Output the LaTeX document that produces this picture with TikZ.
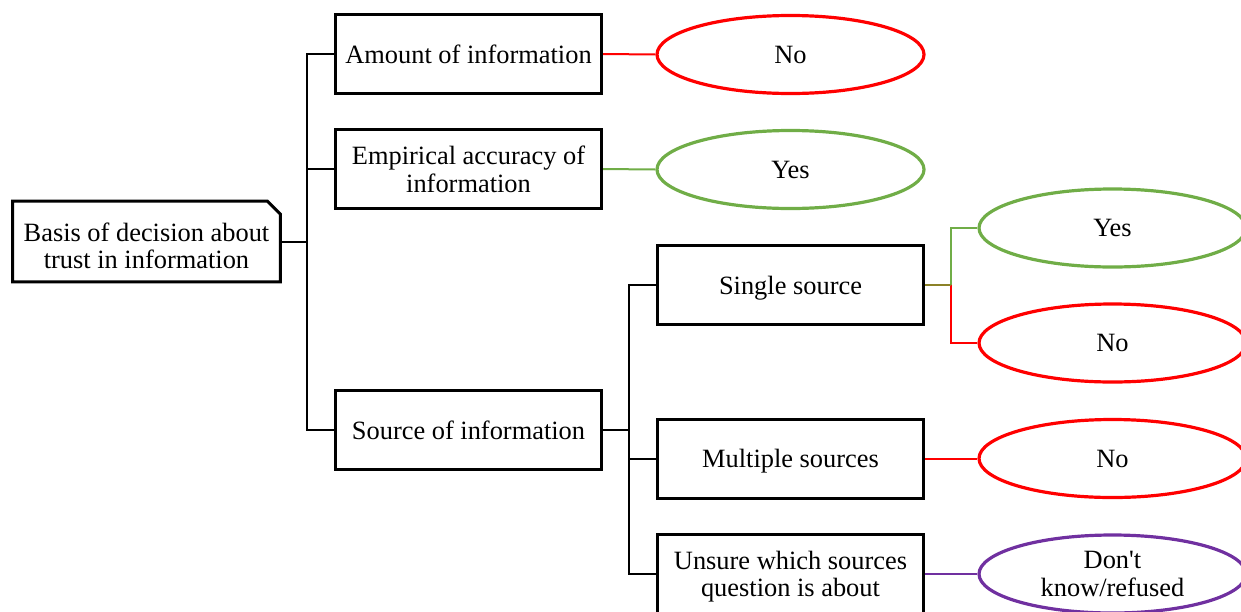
\documentclass[tikz,border=0pt]{standalone}
\usepackage{fontspec}
\setmainfont{Liberation Serif}
\usetikzlibrary{shapes.geometric}
\definecolor{ygreen}{RGB}{112,173,71}
\definecolor{nred}{RGB}{255,0,0}
\definecolor{dpurple}{RGB}{112,48,160}
\definecolor{mixline}{RGB}{140,130,40}
\begin{document}
\begin{tikzpicture}[x=0.5pt,y=-0.5pt,
  every node/.style={font=\fontsize{13.2}{13.8}\selectfont, align=center, inner sep=0pt, text depth=0pt},
  catbox/.style={draw=black, line width=1.5pt, minimum width=133pt, minimum height=39.5pt},
  answer/.style={ellipse, line width=1.6pt, minimum width=133.5pt, minimum height=39pt},
  link/.style={line width=1pt}]
\useasboundingbox (0,0) rectangle (1241,611);

% root node: outline with a cut top-right corner, label set slightly low
\node (rootframe) [minimum width=133.5pt, minimum height=40pt] at (146.5,241.5) {};
\node (root) at (146.5,245.5) {Basis of decision about\\trust in information};
\draw[line width=1.5pt, line join=miter]
  (rootframe.south west) -- (rootframe.north west) -- ([xshift=-6.5pt]rootframe.north east)
  -- ([yshift=-6.5pt]rootframe.north east) -- (rootframe.south east) -- cycle;

% first level
\node[catbox] (amt) at (468.5,54) {Amount of information};
\node[catbox] (emp) at (468.5,169) {Empirical accuracy of\\information};
\node[catbox] (src) at (468.5,430) {Source of information};

% second level
\node[catbox] (single) at (790.5,285) {Single source};
\node[catbox] (multi) at (790.5,458.5) {Multiple sources};
\node[catbox] (unsure) at (790.5,574) {Unsure which sources\\question is about};

% answers
\node[answer, draw=nred] (ansAmt) at (790.5,54.5) {No};
\node[answer, draw=ygreen] (ansEmp) at (790.5,169.5) {Yes};
\node[answer, draw=ygreen] (ansSY) at (1112.5,228) {Yes};
\node[answer, draw=nred] (ansSN) at (1112.5,343) {No};
\node[answer, draw=nred] (ansMul) at (1112.5,458.5) {No};
\node[answer, draw=dpurple] (ansUns) at (1112.5,574) {Don\textquotesingle t\\know/refused};

% tree connectors
\coordinate (tx) at (307,0);
\coordinate (trunk) at (rootframe.east -| tx);
\draw[link] (rootframe.east) -- (trunk);
\draw[link] (trunk) |- (amt.west);
\draw[link] (trunk) |- (emp.west);
\draw[link] (trunk) |- (src.west);

\coordinate (sx) at (629,0);
\coordinate (strunk) at (src.east -| sx);
\draw[link] (src.east) -- (strunk);
\draw[link] (strunk) |- (single.west);
\draw[link] (strunk) |- (multi.west);
\draw[link] (strunk) |- (unsure.west);

% answer connectors
\draw[link, nred] (amt.east) -- (ansAmt.west);
\draw[link, ygreen] (emp.east) -- (ansEmp.west);
\coordinate (jx) at (951,0);
\coordinate (split) at (single.east -| jx);
\draw[link, ygreen] (split) |- (ansSY.west);
\draw[link, nred] (split) |- (ansSN.west);
\draw[link, mixline] (single.east) -- (split);
\draw[link, nred] (multi.east) -- (ansMul.west);
\draw[link, dpurple] (unsure.east) -- (ansUns.west);
\end{tikzpicture}
\end{document}
